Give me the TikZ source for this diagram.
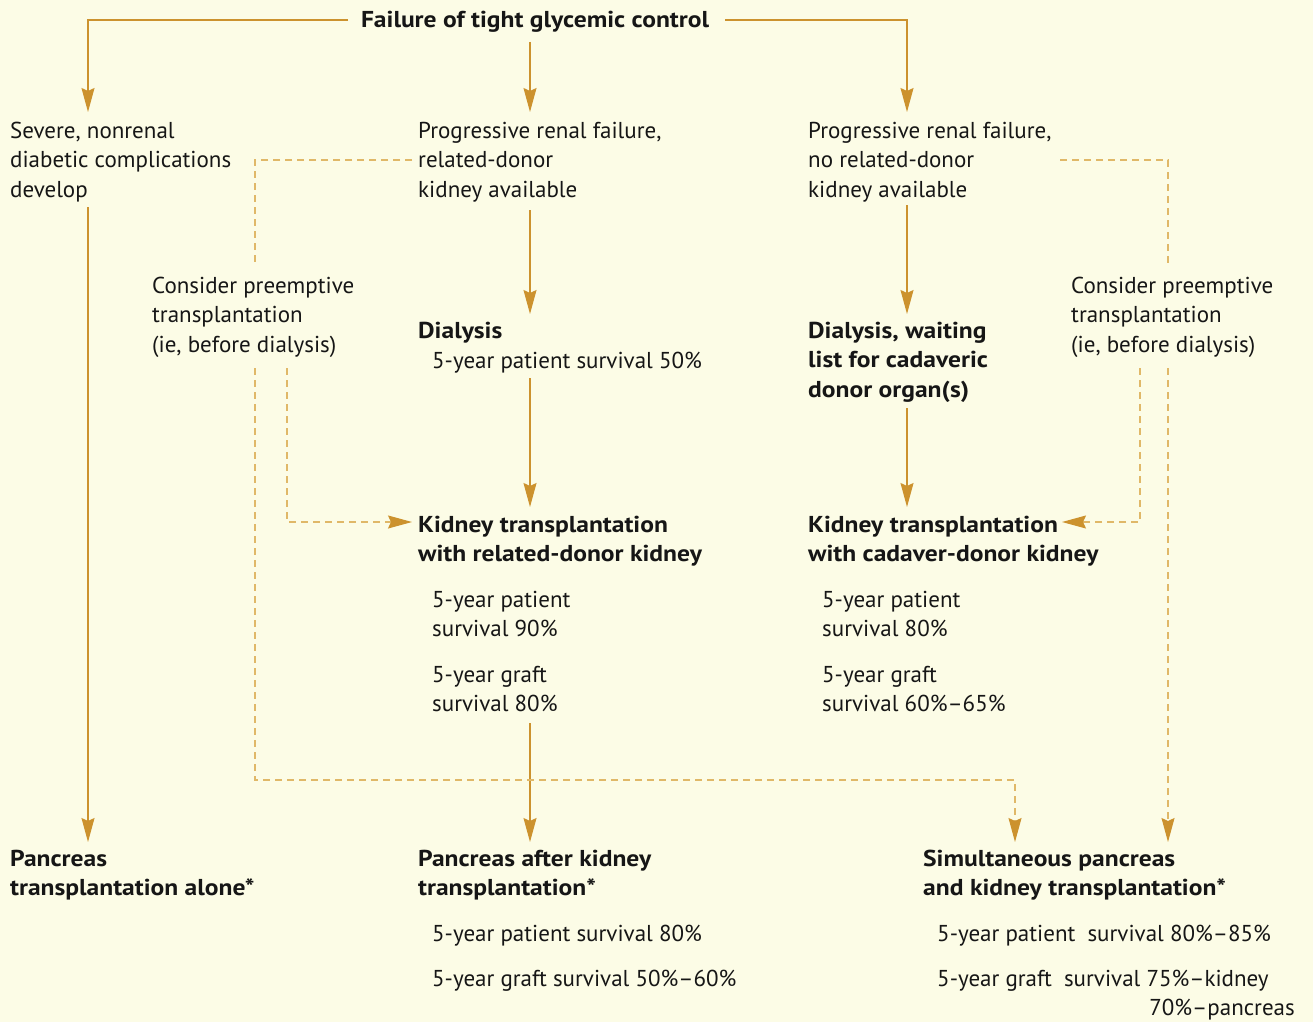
\documentclass[tikz,border=0pt]{standalone}
\usepackage{fontspec}
\setmainfont{PT Sans}[BoldFeatures={FakeStretch=1.11}]
\usetikzlibrary{arrows.meta}
\definecolor{bg}{RGB}{252,252,230}
\definecolor{gold}{RGB}{204,146,46}
\definecolor{goldlight}{RGB}{224,184,104}
\definecolor{ink}{RGB}{22,22,22}
\tikzset{
  every node/.style={inner sep=0pt, text=ink},
  txt/.style={anchor=base west, align=left, font=\fontsize{23}{29.5}\selectfont},
  btxt/.style={anchor=base west, align=left, font=\fontsize{23}{29.5}\selectfont\bfseries},
  solidline/.style={draw=gold, line width=1.3pt},
  dashline/.style={draw=goldlight, line width=1.2pt, dash pattern=on 7pt off 5pt},
  arr/.style={-{Stealth[length=24pt,width=13pt,inset=3pt,color=gold]}}
}
\begin{document}
\begin{tikzpicture}[x=1pt,y=-1pt]
\fill[bg] (0,0) rectangle (1313,1022);
\useasboundingbox (0,0) rectangle (1313,1022);

% texts (base anchor = baseline of the last line)
\node[btxt,anchor=base] (title) at (535,28) {Failure of tight glycemic control};
\node[txt] (sev) at (10,197) {Severe, nonrenal\\diabetic complications\\develop};
\node[txt] (prog1) at (418,197) {Progressive renal failure,\\related-donor\\kidney available};
\node[txt] (prog2) at (808,197) {Progressive renal failure,\\no related-donor\\kidney available};
\node[txt] (cons1) at (152,352) {Consider preemptive\\transplantation\\(ie, before dialysis)};
\node[txt] (cons2) at (1071,352) {Consider preemptive\\transplantation\\(ie, before dialysis)};
\node[btxt] (dial1) at (418,338) {Dialysis};
\node[txt] (dial1s) at (432,368) {5-year patient survival 50\%};
\node[btxt] (dial2) at (808,397) {Dialysis, waiting\\list for cadaveric\\donor organ(s)};
\node[btxt] (ktx1) at (418,561.5) {Kidney transplantation\\with related-donor kidney};
\node[txt] (ktx1p) at (432,636.5) {5-year patient\\survival 90\%};
\node[txt] (ktx1g) at (432,711.5) {5-year graft\\survival 80\%};
\node[btxt] (ktx2) at (808,561.5) {Kidney transplantation\\with cadaver-donor kidney};
\node[txt] (ktx2p) at (822,636.5) {5-year patient\\survival 80\%};
\node[txt] (ktx2g) at (822,711.5) {5-year graft\\survival 60\%--65\%};
\node[btxt] (pta) at (10,895.5) {Pancreas\\transplantation alone*};
\node[btxt] (pak) at (418,895.5) {Pancreas after kidney\\transplantation*};
\node[txt] (pakp) at (432,941) {5-year patient survival 80\%};
\node[txt] (pakg) at (432,986) {5-year graft survival 50\%--60\%};
\node[btxt] (spk) at (923,895.5) {Simultaneous pancreas\\and kidney transplantation*};
\node[txt] (spkp) at (937,941) {5-year patient\hspace{6pt} survival 80\%--85\%};
\node[txt] (spkg) at (937,986) {5-year graft\hspace{6pt} survival 75\%--kidney};
\node[txt,anchor=base east] (spkg2) at (1295,1015) {70\%--pancreas};

% connector end points
\coordinate (tL) at (348,20);
\coordinate (tR) at (725,20);
\coordinate (tM) at (530,42);
\coordinate (sevIn) at (88,112);
\coordinate (prog1In) at (530,112);
\coordinate (prog2In) at (907,112);
\coordinate (sevOut) at (88,207);
\coordinate (ptaIn) at (88,842);
\coordinate (prog1Out) at (530,210);
\coordinate (dial1In) at (530,314);
\coordinate (dial1Out) at (530,378);
\coordinate (ktx1In) at (530,507);
\coordinate (ktx1Out) at (530,723);
\coordinate (pakIn) at (530,842);
\coordinate (prog2Out) at (907,205);
\coordinate (dial2In) at (907,314);
\coordinate (dial2Out) at (907,408);
\coordinate (ktx2In) at (907,507);
\coordinate (p1dash) at (412,160);
\coordinate (c1top) at (255,266);
\coordinate (c1outA) at (255,368);
\coordinate (spkInA) at (1015,842);
\coordinate (c1outB) at (287,368);
\coordinate (ktx1W) at (412,522);
\coordinate (p2dash) at (1060,160);
\coordinate (c2top) at (1168,266);
\coordinate (c2outA) at (1168,368);
\coordinate (spkInB) at (1168,842);
\coordinate (c2outB) at (1140,368);
\coordinate (ktx2E) at (1062,522);

% solid connectors
\draw[solidline,arr] (tL) -| (sevIn);
\draw[solidline,arr] (tR) -| (prog2In);
\draw[solidline,arr] (tM) -- (prog1In);
\draw[solidline,arr] (sevOut) -- (ptaIn);
\draw[solidline,arr] (prog1Out) -- (dial1In);
\draw[solidline,arr] (dial1Out) -- (ktx1In);
\draw[solidline,arr] (ktx1Out) -- (pakIn);
\draw[solidline,arr] (prog2Out) -- (dial2In);
\draw[solidline,arr] (dial2Out) -- (ktx2In);

% dashed connectors
\draw[dashline] (p1dash) -| (c1top);
\draw[dashline,arr] (c1outA) |- (780,780) -| (spkInA);
\draw[dashline,arr] (c1outB) |- (ktx1W);
\draw[dashline] (p2dash) -| (c2top);
\draw[dashline,arr] (c2outA) -- (spkInB);
\draw[dashline,arr] (c2outB) |- (ktx2E);
\end{tikzpicture}
\end{document}
